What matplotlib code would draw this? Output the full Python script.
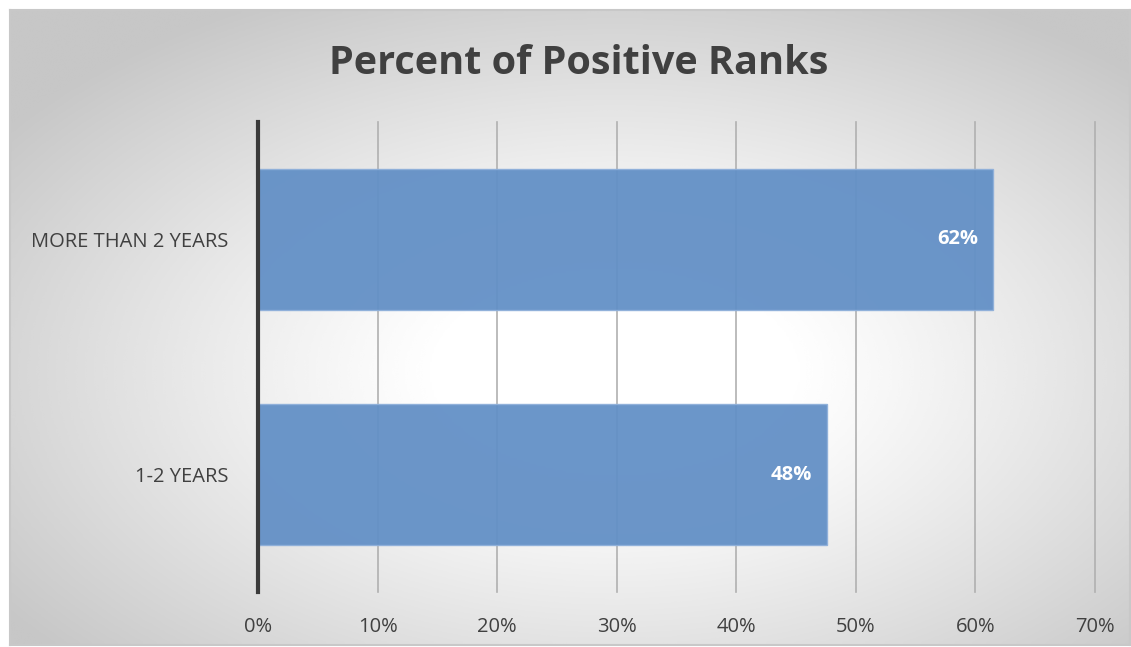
import numpy as np
import matplotlib.pyplot as plt

# data
categories = ['1-2 YEARS', 'MORE THAN 2 YEARS']
values = [47.6, 61.5]
value_labels = ['48%', '62%']
xticks = [0, 10, 20, 30, 40, 50, 60, 70]

W, H = 1131, 647
fig = plt.figure(figsize=(W / 100, H / 100), dpi=100)
fig.patch.set_facecolor('white')

# background frame with radial gradient (white centre, grey corners)
bg = fig.add_axes([10 / W, 2 / H, 1120 / W, 635 / H])
yy, xx = np.mgrid[0:300, 0:500]
dx = (xx / 499 - 0.54) / 0.5
dy = (yy / 299 - 0.57) / 0.5
r = np.sqrt(dx ** 2 + dy ** 2) / np.sqrt(2)
t = np.clip((r - 0.22) / 0.72, 0, 1)
grad = 1.0 - 0.22 * t ** 1.1
bg.imshow(grad, cmap='gray', vmin=0, vmax=1, aspect='auto',
          extent=[0, 1, 0, 1], origin='upper', interpolation='bicubic')
bg.set_xticks([])
bg.set_yticks([])
for s in bg.spines.values():
    s.set_color('#c8c8c8')
    s.set_linewidth(1.5)

ax = fig.add_axes([258 / W, (H - 592) / H, (1095 - 258) / W, 470 / H])
ax.patch.set_alpha(0)
ypos = np.arange(len(categories))
bars = ax.barh(ypos, values, height=0.6, color='#6390c6', alpha=0.95,
               edgecolor='#8fb0da', linewidth=1, zorder=3)
ax.set_xlim(0, 70)
ax.set_ylim(-0.5, 1.5)
ax.set_xticks(xticks)
ax.set_xticklabels([f'{t}%' for t in xticks])
ax.set_yticks(ypos)
ax.set_yticklabels(categories)
ax.grid(axis='x', color='#b0b0b0', linewidth=1.2, zorder=1)
for gl in ax.get_xgridlines():
    gl.set_clip_on(False)
ax.tick_params(axis='both', length=0, labelsize=14.5, colors='#404040',
               labelfontfamily='Open Sans')
ax.tick_params(axis='x', pad=18)
ax.tick_params(axis='y', pad=21)
for s in ['top', 'right', 'bottom']:
    ax.spines[s].set_visible(False)
ax.spines['left'].set_color('#3a3a3a')
ax.spines['left'].set_linewidth(3)
ax.spines['left'].set_zorder(4)

for b, lab in zip(bars, value_labels):
    ax.text(b.get_width() - 1.3, b.get_y() + b.get_height() / 2, lab,
            ha='right', va='center', color='white', fontsize=14.5,
            fontweight='bold', family='Open Sans', zorder=5)

fig.text(579 / W, 1 - 63 / H, 'Percent of Positive Ranks', ha='center',
         va='center', fontsize=28.5, fontweight='bold', color='#404040',
         family='Open Sans')

fig.savefig('out.png', dpi=100)
